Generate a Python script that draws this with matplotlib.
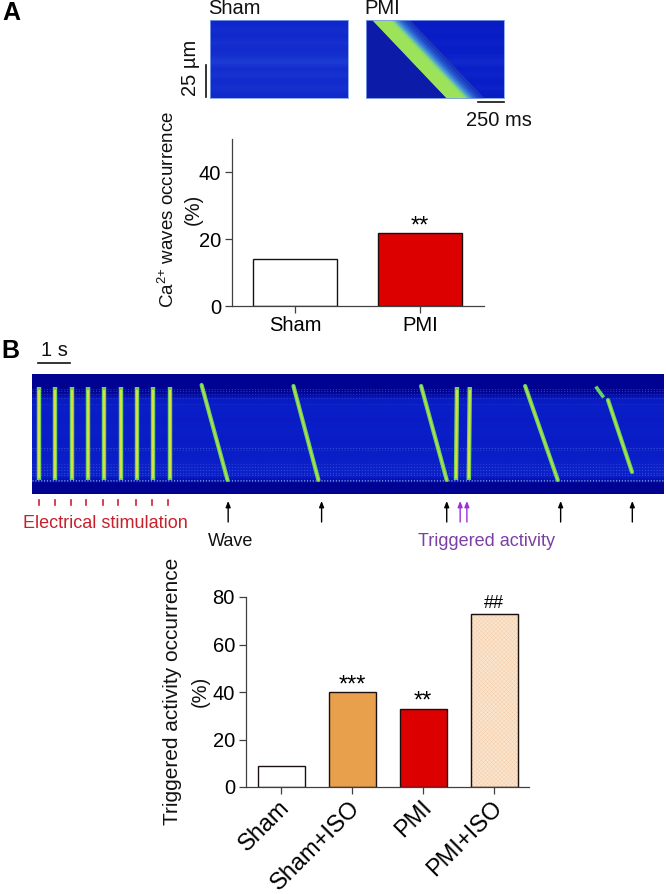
import numpy as np
import matplotlib
matplotlib.use('Agg')
import matplotlib.pyplot as plt
from matplotlib.colors import LinearSegmentedColormap
from matplotlib.transforms import ScaledTranslation

plt.rcParams['font.family'] = ['Liberation Sans', 'DejaVu Sans']
plt.rcParams['mathtext.default'] = 'regular'
plt.rcParams['hatch.linewidth'] = 0.25

W, H = 666, 894

# panel A bars
a_labels = ['Sham', 'PMI']
a_values = [14, 21.7]
a_colors = ['white', '#dc0000']
a_marks = ['', '**']

# panel B bars
b_labels = ['Sham', 'Sham+ISO', 'PMI', 'PMI+ISO']
b_values = [9, 40, 33, 73]
b_colors = ['white', '#e8a04c', '#dc0000', '#fbe4cc']
b_marks = ['', '***', '**', '##']

# line scan B: seconds for the start / end of each event, rows in um from the top
stim_start = [0.21, 0.73, 1.24, 1.75, 2.26, 2.77, 3.28, 3.79, 4.31]
stim_tick = [0.21, 0.71, 1.21, 1.70, 2.22, 2.70, 3.25, 3.75, 4.25]
wave_start = [5.30, 8.17, 12.16, 15.41, 18.00]
wave_end = [6.11, 8.95, 12.96, 16.43, 18.75]
wave_top = [11, 12, 12, 12, 26]
wave_bottom = [106, 106, 106, 106, 98]
arrow_t = [6.13, 9.05, 12.96, 16.52, 18.76]
trig_arrow_t = [13.38, 13.59]
trig_time = [13.28, 13.68]
frag_t = [17.65, 17.83]
frag_y = [14, 22]
# brightness by row of the scan background
b_rows = [0.02, 0.02, 0.02, 0.18, 0.20, 0.20, 0.19, 0.20, 0.20, 0.19, 0.20, 0.20, 0.21, 0.22, 0.20, 0.02, 0.02]
speckle_rows = [15, 17, 20, 24, 30, 74, 76, 90, 93, 96, 99, 101, 106, 107]
speckle_alpha = [0.25, 0.3, 0.2, 0.2, 0.12, 0.3, 0.15, 0.18, 0.22, 0.25, 0.25, 0.28, 0.7, 0.5]

# line scan A
a_bands = [0.24, 0.27, 0.25, 0.29, 0.26, 0.29, 0.34, 0.27, 0.30, 0.26, 0.29, 0.25]
wave_a_t = [58, 778]
trail_ms = [170, 195, 215, 240, 265, 295, 330, 370]
trail_col = ['#9ce35a', '#8edc6c', '#6fc894', '#4f9fd0', '#3a80d4', '#2a62d0', '#2048c8', '#1a38bc']

scan = LinearSegmentedColormap.from_list('scan', ['#00008c', '#0a1ec8', '#2448d8', '#5a9ae0', '#a4e34e', '#e0e040'])


def px_axes(fig, x0, y0, x1, y1):
    return fig.add_axes([x0 / W, 1 - y1 / H, (x1 - x0) / W, (y1 - y0) / H])


def bar_panel(ax, labels, values, colors, xlim, ylim, ticks):
    x = np.arange(len(values))
    ax.bar(x, values, width=0.665, color=colors, edgecolor='#1a1010', linewidth=1.0)
    ax.set_xlim(xlim)
    ax.set_ylim(ylim)
    ax.set_yticks(ticks)
    ax.set_xticks(x)
    for s in ['top', 'right']:
        ax.spines[s].set_visible(False)
    for s in ['left', 'bottom']:
        ax.spines[s].set_linewidth(0.9)
        ax.spines[s].set_color('#404040')
    ax.tick_params(length=5, width=0.9, color='#404040', labelsize=14.5, pad=3)
    ax.tick_params(axis='x', pad=2)
    ax.patch.set_alpha(0)
    return x


fig = plt.figure(figsize=(W / 100, H / 100), dpi=100, facecolor='white')

# overlay in pixels for labels and scale bars
ov = fig.add_axes([0, 0, 1, 1])
ov.set_xlim(0, W)
ov.set_ylim(H, 0)
ov.axis('off')


def label(x, y, s, **kw):
    kw.setdefault('fontsize', 14.5)
    kw.setdefault('ha', 'center')
    kw.setdefault('va', 'center')
    kw.setdefault('color', '#111111')
    ov.text(x, y, s, **kw)


label(2, 13, 'A', fontsize=18, fontweight='bold', ha='left', color='black')
label(1, 351, 'B', fontsize=18, fontweight='bold', ha='left', color='black')
label(208, 8, 'Sham', ha='left')
label(364, 8, 'PMI', ha='left')
label(190, 68, '25 µm', rotation=90)
ov.plot([206, 206], [65, 97], color='#111111', lw=1.2)
ov.plot([478, 504], [102, 102], color='#111111', lw=1.2)
label(499, 120, '250 ms')
ov.plot([38, 70], [363, 363], color='#111111', lw=1.2)
label(54, 350, '1 s')

# panel A images
ax = px_axes(fig, 210, 20, 348, 98)
ax.imshow(np.array(a_bands)[:, None], cmap=scan, vmin=0, vmax=1, aspect='auto',
          extent=[0, 1340, 61, 0], interpolation='bilinear')
ax.set_xticks([])
ax.set_yticks([])
for s in ax.spines.values():
    s.set_color('#7f9fe8')
    s.set_linewidth(0.6)

ax = px_axes(fig, 366, 20, 504, 98)
ax.imshow(np.array(a_bands)[:, None] * 0.75, cmap=scan, vmin=0, vmax=1, aspect='auto',
          extent=[0, 1340, 61, 0], interpolation='bilinear')
for w, c in zip(trail_ms[::-1], trail_col[::-1]):
    ax.fill_betweenx([0, 61], wave_a_t, [wave_a_t[0] + w, wave_a_t[1] + w], color=c, lw=0)
ax.fill_betweenx([0, 61], [0, 0], wave_a_t, color='#0c1ca8', lw=0)
ax.set_xlim(0, 1340)
ax.set_ylim(61, 0)
ax.set_xticks([])
ax.set_yticks([])
for s in ax.spines.values():
    s.set_color('#7f9fe8')
    s.set_linewidth(0.6)

# panel A bars
ax = px_axes(fig, 232, 139, 484, 306)
x = bar_panel(ax, a_labels, a_values, a_colors, (-0.504, 1.512), (0, 49.9), [0, 20, 40])
ax.set_xticklabels(a_labels)
for i, m in zip(x, a_marks):
    ax.annotate(m, (i, a_values[i]), xytext=(0, -3), textcoords='offset points',
                ha='center', va='bottom', fontsize=17)
label(168, 209, 'Ca$^{2{+}}$ waves occurrence', rotation=90, fontsize=13.5)
label(193, 209, '(%)', rotation=90)

# panel B line scan
ax = px_axes(fig, 32, 374, 664, 494)
ax.imshow(np.array(b_rows)[:, None], cmap=scan, vmin=0, vmax=1, aspect='auto',
          extent=[0, 19.75, 120, 0], interpolation='bilinear')
for r, al in zip(speckle_rows, speckle_alpha):
    ax.plot([0, 19.75], [r, r], color='#9cc0f0', lw=0.8, ls=(0, (1, 1.6)), alpha=al)
for t in stim_start:
    ax.plot([t, t], [13, 106], color='#6fd060', lw=3.2, solid_capstyle='butt')
    ax.plot([t, t], [16, 104], color='#d8e040', lw=1.5, solid_capstyle='butt')
for t in trig_time:
    ax.plot([t, t - 0.03], [13, 106], color='#6fd060', lw=3.2, solid_capstyle='butt')
    ax.plot([t, t - 0.03], [16, 104], color='#d8e040', lw=1.5, solid_capstyle='butt')
for t0, t1, y0, y1 in zip(wave_start, wave_end, wave_top, wave_bottom):
    ax.plot([t0, t1], [y0, y1], color='#68d068', lw=3.0, solid_capstyle='round')
    ax.plot([t0, t1], [y0, y1], color='#b8e040', lw=1.2, solid_capstyle='round')
ax.plot(frag_t, frag_y, color='#68d068', lw=2.6)
ax.set_xlim(0, 19.75)
ax.set_ylim(120, 0)
ax.set_xticks([])
ax.set_yticks([])
for s in ax.spines.values():
    s.set_visible(False)

# markers under the scan, same time axis
for t in stim_tick:
    ov.plot([32 + t * 32] * 2, [500, 505], color='#d02030', lw=1.2)
for t in arrow_t:
    ov.annotate('', xy=(32 + t * 32, 501), xytext=(32 + t * 32, 522),
                arrowprops=dict(arrowstyle='-|>,head_width=0.14,head_length=0.35', color='black', lw=1.0, shrinkA=0, shrinkB=0))
for t in trig_arrow_t:
    ov.annotate('', xy=(32 + t * 32, 501), xytext=(32 + t * 32, 522),
                arrowprops=dict(arrowstyle='-|>,head_width=0.14,head_length=0.35', color='#9a30d8', lw=1.0, shrinkA=0, shrinkB=0))
label(105, 523, 'Electrical stimulation', color='#c8202c', fontsize=13)
label(231, 541, 'Wave', fontsize=13)
label(486, 541, 'Triggered activity', color='#7b3fa5', fontsize=13)

# panel B bars
ax = px_axes(fig, 246, 597, 529, 787)
x = bar_panel(ax, b_labels, b_values, b_colors, (-0.497, 3.49), (0, 80), [0, 20, 40, 60, 80])
ax.patches[3].set_hatch('xxxxxxxx')
ax.patches[3].set_edgecolor('#f0c8a4')
ax.bar([3], [b_values[3]], width=0.665, fill=False, edgecolor='#1a1010', linewidth=1.0)
ax.set_xticklabels(b_labels, rotation=45, ha='right', rotation_mode='anchor', fontsize=17)
# the rotated labels sit a little left of the anchor
shift = ScaledTranslation(-3 / 100, 0, fig.dpi_scale_trans)
for t in ax.get_xticklabels():
    t.set_transform(t.get_transform() + shift)
for i, m in zip(x, b_marks):
    fs = 13 if m == '##' else 17
    ax.annotate(m, (i, b_values[i]), xytext=(0, 1.5 if m == '##' else -3), textcoords='offset points',
                ha='center', va='bottom', fontsize=fs)
label(173, 691, 'Triggered activity occurrence', rotation=90, fontsize=15)
label(200, 691, '(%)', rotation=90)

fig.savefig('out.png', dpi=100)
